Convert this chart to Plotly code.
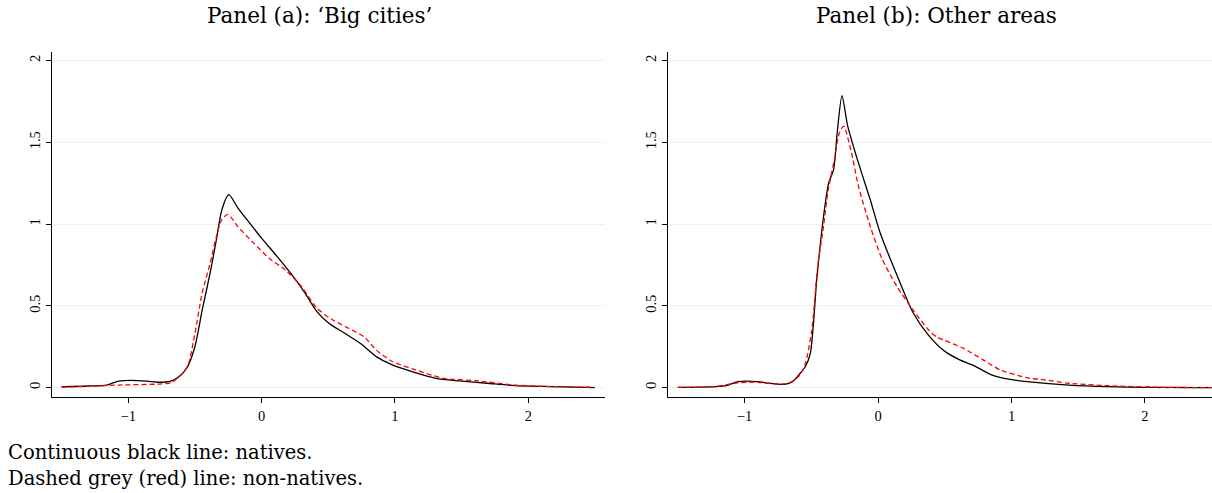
import plotly.graph_objects as go

# ---------------- data ----------------
# Panel (a): 'Big cities'
xa_nat = [-1.5, -1.3, -1.16, -1.07, -0.98, -0.86, -0.77, -0.68, -0.62, -0.56, -0.50, -0.445, -0.386, -0.34,
          -0.297, -0.246, -0.178, -0.089, 0.0, 0.119, 0.237, 0.326, 0.415, 0.504, 0.623, 0.742, 0.86, 0.98,
          1.128, 1.306, 1.484, 1.69, 1.90, 2.2, 2.5]
ya_nat = [0.005, 0.01, 0.016, 0.04, 0.045, 0.04, 0.033, 0.04, 0.067, 0.12, 0.25, 0.475, 0.70, 0.90,
          1.09, 1.18, 1.10, 1.006, 0.914, 0.80, 0.68, 0.578, 0.465, 0.394, 0.333, 0.27, 0.19, 0.139,
          0.098, 0.057, 0.041, 0.027, 0.012, 0.006, 0.0]
xa_non = [-1.5, -1.3, -1.07, -0.77, -0.68, -0.59, -0.55, -0.50, -0.445, -0.386, -0.34, -0.297, -0.252,
          -0.178, -0.059, 0.059, 0.178, 0.297, 0.415, 0.534, 0.653, 0.77, 0.86, 0.98, 1.157, 1.365, 1.60,
          1.90, 2.2, 2.5]
ya_non = [0.003, 0.008, 0.016, 0.022, 0.03, 0.088, 0.14, 0.33, 0.58, 0.76, 0.92, 1.03, 1.06,
          0.985, 0.884, 0.79, 0.72, 0.62, 0.486, 0.414, 0.363, 0.31, 0.23, 0.16, 0.108, 0.057, 0.043,
          0.016, 0.006, 0.002]

# Panel (b): Other areas
xb_nat = [-1.5, -1.224, -1.12, -1.05, -0.904, -0.816, -0.70, -0.64, -0.583, -0.545, -0.507, -0.457, -0.408,
          -0.37, -0.333, -0.306, -0.27, -0.227, -0.146, -0.058, 0.017, 0.146, 0.262, 0.379, 0.496, 0.612,
          0.729, 0.845, 0.991, 1.137, 1.43, 1.72, 2.01, 2.5]
yb_nat = [0.002, 0.006, 0.016, 0.037, 0.037, 0.027, 0.02, 0.037, 0.088, 0.128, 0.21, 0.68, 1.047,
          1.25, 1.333, 1.557, 1.786, 1.60, 1.373, 1.149, 0.944, 0.68, 0.46, 0.32, 0.225, 0.17,
          0.13, 0.08, 0.05, 0.035, 0.016, 0.006, 0.002, 0.0]
xb_non = [-1.5, -1.224, -1.05, -0.904, -0.758, -0.67, -0.583, -0.54, -0.496, -0.452, -0.408, -0.373, -0.327,
          -0.29, -0.257, -0.204, -0.146, -0.058, 0.029, 0.142, 0.262, 0.379, 0.44, 0.496, 0.641, 0.787,
          0.916, 1.137, 1.216, 1.43, 1.72, 2.157, 2.5]
yb_non = [0.002, 0.006, 0.03, 0.033, 0.022, 0.027, 0.078, 0.16, 0.353, 0.74, 0.986, 1.21, 1.394,
          1.557, 1.60, 1.455, 1.23, 0.986, 0.79, 0.618, 0.476, 0.353, 0.31, 0.29, 0.24, 0.17,
          0.108, 0.057, 0.051, 0.027, 0.012, 0.002, 0.0]

titles = ["Panel (a): \u2018Big cities\u2019", "Panel (b): Other areas"]
notes = ["Continuous black line: natives.", "Dashed grey (red) line: non-natives."]
x_ticks = [-1, 0, 1, 2]
y_ticks = [0, 0.5, 1, 1.5, 2]
y_ticklabels = ["0", "0.5", "1", "1.5", "2"]

# ---------------- layout helpers ----------------
W, H = 1212, 493
def px_x(p): return p / W
def px_y(p): return 1 - p / H

SERIF = "Liberation Serif"
TITLE_FONT = "DejaVu Serif"

fig = go.Figure()

def add_line(x, y, xa, ya, dashed):
    fig.add_trace(go.Scatter(
        x=x, y=y, xaxis=xa, yaxis=ya, mode="lines",
        line=dict(color="#FF0000" if dashed else "#000000", width=1.3,
                  dash="5px,3px" if dashed else "solid", shape="spline", smoothing=0.7),
        showlegend=False, hoverinfo="skip"))

add_line(xa_nat, ya_nat, "x", "y", False)
add_line(xa_non, ya_non, "x", "y", True)
add_line(xb_nat, yb_nat, "x2", "y2", False)
add_line(xb_non, yb_non, "x2", "y2", True)

ydom = [px_y(397.3), px_y(52.3)]
yrange = [-0.059, 2.051]
grid_col = "#EAF2F3"

common_x = dict(showgrid=False, zeroline=False, showline=True, linecolor="black", linewidth=1,
                ticks="outside", ticklen=5, tickcolor="black", tickwidth=1, automargin=False,
                tickvals=x_ticks, tickfont=dict(family=SERIF, size=14.5, color="black"))
common_y = dict(range=yrange, domain=ydom, showgrid=True, gridcolor=grid_col, gridwidth=1.2,
                zeroline=False, showline=True, linecolor="black", linewidth=1, automargin=False,
                ticks="outside", ticklen=5, tickcolor="black", tickwidth=1,
                tickvals=y_ticks, ticktext=y_ticklabels, tickangle=-90,
                tickfont=dict(family=SERIF, size=14.5, color="black"))

fig.update_layout(
    width=W, height=H, margin=dict(l=0, r=0, t=0, b=0),
    paper_bgcolor="white", plot_bgcolor="white", showlegend=False,
    xaxis=dict(common_x, domain=[px_x(51.5), px_x(605)], range=[-1.575, 2.575], anchor="y"),
    yaxis=dict(common_y, anchor="x"),
    xaxis2=dict(common_x, domain=[px_x(667.5), 1.0], range=[-1.577, 2.502], anchor="y2"),
    yaxis2=dict(common_y, anchor="x2"),
)

annotations = [
    dict(text=titles[0], x=px_x(319), y=px_y(15), xref="paper", yref="paper",
         showarrow=False, xanchor="center", yanchor="middle",
         font=dict(family=TITLE_FONT, size=21.5, color="black")),
    dict(text=titles[1], x=px_x(937), y=px_y(15), xref="paper", yref="paper",
         showarrow=False, xanchor="center", yanchor="middle",
         font=dict(family=TITLE_FONT, size=21.5, color="black")),
    dict(text=notes[0], x=px_x(6), y=px_y(452), xref="paper", yref="paper",
         showarrow=False, xanchor="left", yanchor="middle",
         font=dict(family=TITLE_FONT, size=19.5, color="black")),
    dict(text=notes[1], x=px_x(6), y=px_y(478), xref="paper", yref="paper",
         showarrow=False, xanchor="left", yanchor="middle",
         font=dict(family=TITLE_FONT, size=19.5, color="black")),
]
fig.update_layout(annotations=annotations)

fig.write_html("out.html", config={"displayModeBar": False},
               post_script="document.body.style.margin='0px';document.body.style.overflow='hidden';")
